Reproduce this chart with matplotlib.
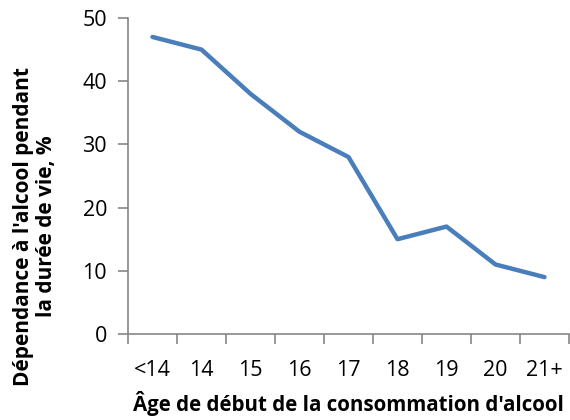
import matplotlib
matplotlib.use("Agg")
import matplotlib.pyplot as plt

categories = ["<14", "14", "15", "16", "17", "18", "19", "20", "21+"]
values = [47, 45, 38, 32, 28, 15, 17, 11, 9]
yticks = [0, 10, 20, 30, 40, 50]

plt.rcParams['font.family'] = ['Open Sans', 'DejaVu Sans']

fig = plt.figure(figsize=(5.7, 4.2), dpi=100)
ax = fig.add_axes([128/570, 86/420, 441/570, 316/420])

x = list(range(len(categories)))
ax.plot(x, values, color="#4A7EBB", linewidth=3.2, solid_capstyle="round", solid_joinstyle="round")

ax.set_xlim(-0.5, len(categories) - 0.5)
ax.set_ylim(0, 50)
ax.set_yticks(yticks)
ax.set_yticklabels([str(v) for v in yticks], fontsize=15.5)
ax.set_xticks(x)
ax.set_xticklabels(categories, fontsize=15.5)
ax.tick_params(axis="x", length=0, pad=19)
ax.set_xticks([i - 0.5 for i in range(len(categories) + 1)], minor=True)
ax.tick_params(axis="x", which="minor", length=7, color="#868686", width=1.2)
ax.tick_params(axis="y", length=7, color="#868686", width=1.2, pad=8)

for s in ["top", "right"]:
    ax.spines[s].set_visible(False)
for s in ["left", "bottom"]:
    ax.spines[s].set_color("#868686")
    ax.spines[s].set_linewidth(1.2)

ax.set_xlabel("Âge de début de la consommation d'alcool", fontsize=14.8, fontweight="bold")
ax.xaxis.set_label_coords(0.5, ((420 - 404) - 86) / 316)
ax.xaxis.label.set_va("center")

ax.set_ylabel("Dépendance à l'alcool pendant\nla durée de vie, %", fontsize=15, fontweight="bold", linespacing=1.15)
ax.yaxis.set_label_coords((35 - 128) / 441, (420 - 226 - 86) / 316)
ax.yaxis.label.set_va("center")

fig.savefig("out.png", dpi=100)
